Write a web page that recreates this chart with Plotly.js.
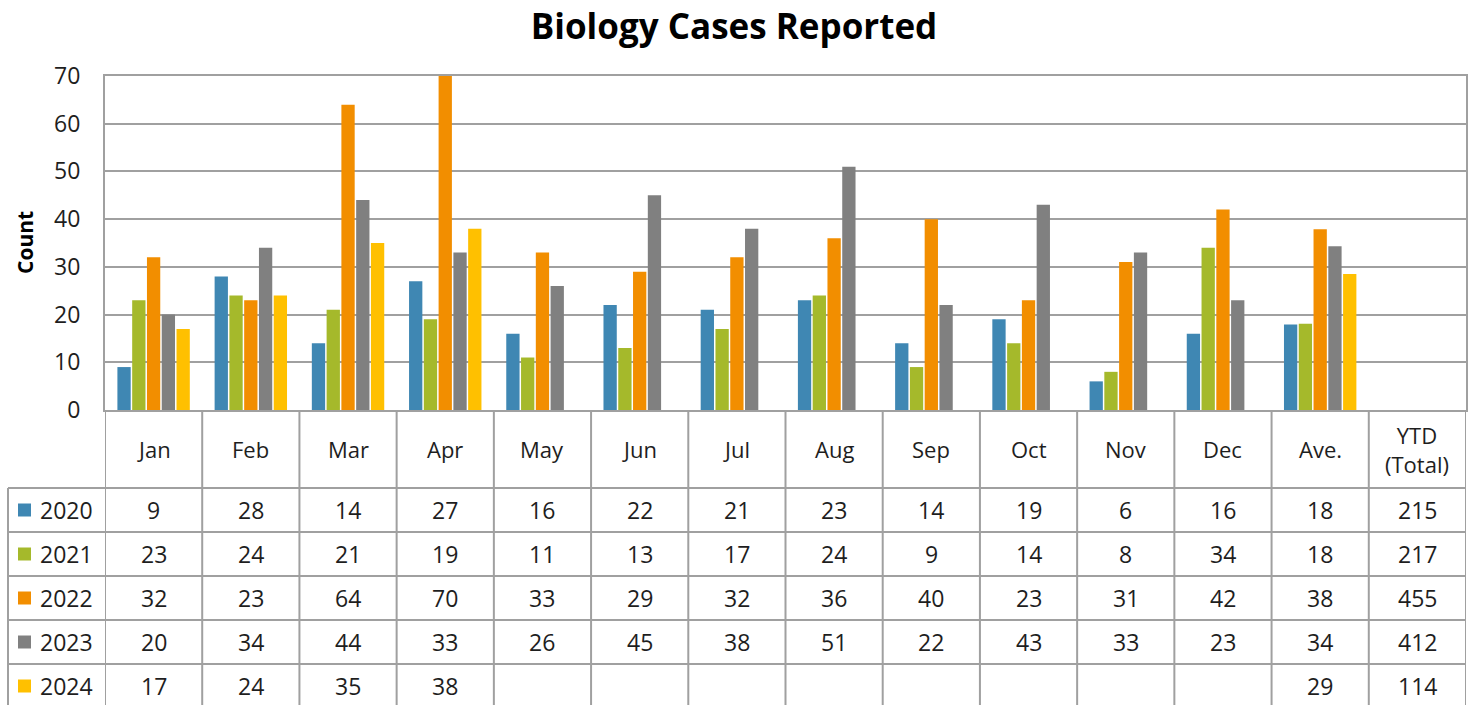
<!DOCTYPE html>
<html><head><meta charset="utf-8">
<script src="https://cdn.plot.ly/plotly-3.0.1.min.js"></script>
<style>html,body{margin:0;padding:0;background:#fff;overflow:hidden}#chart{width:1468px;height:705px}</style>
</head><body><div id="chart"></div>
<script>
// ---- data ----
const categories = ['Jan','Feb','Mar','Apr','May','Jun','Jul','Aug','Sep','Oct','Nov','Dec','Ave.'];
const tableHeaders = ['Jan','Feb','Mar','Apr','May','Jun','Jul','Aug','Sep','Oct','Nov','Dec','Ave.','YTD<br>(Total)'];
const years = ['2020','2021','2022','2023','2024'];
const s2020 = [9,28,14,27,16,22,21,23,14,19,6,16,17.9];
const s2021 = [23,24,21,19,11,13,17,24,9,14,8,34,18.1];
const s2022 = [32,23,64,70,33,29,32,36,40,23,31,42,37.9];
const s2023 = [20,34,44,33,26,45,38,51,22,43,33,23,34.3];
const s2024 = [17,24,35,38,null,null,null,null,null,null,null,null,28.5];
const ytdTotals = [215,217,455,412,114];
const yTicks = [0,10,20,30,40,50,60,70];

// ---- styling / layout constants ----
const series = [s2020,s2021,s2022,s2023,s2024];
const colors = ['#3f87b3','#a5b92b','#f28e00','#808080','#ffc000'];
const W = 1468, H = 705, mL = 105, mR = 2, mT = 76, mB = 295;
const plotW = W - mL - mR, plotH = H - mT - mB;
const gridCol = '#a0a0a0', txtCol = '#1e1e1e';
const FONT = '"Open Sans", Lato, sans-serif';
const fx = px => (px - mL) / plotW;
const fy = py => (H - mB - py) / plotH;
const axisPy = H - mB;
const headerH = 78, rowH = 44;
const tableLeftPx = 8;
const nCols = tableHeaders.length;

const xIdx = categories.map((c, i) => i);
const traces = series.map((s, k) => ({
  type: 'bar', x: xIdx, y: s, name: years[k],
  marker: {color: colors[k], line: {width: 0}},
  hoverinfo: 'y+name'
}));

const shapes = [];
const annotations = [];
const rowTop = r => axisPy + headerH + r * rowH;
const tableBottom = rowTop(years.length) + 4;

// vertical column lines (table)
for (let i = 0; i <= nCols; i++) {
  shapes.push({type: 'line', xref: 'x', yref: 'paper', x0: i - 0.5, x1: i - 0.5,
    y0: fy(axisPy), y1: fy(tableBottom), line: {color: gridCol, width: 2}});
}
// left border of row-label column
shapes.push({type: 'line', xref: 'paper', yref: 'paper', x0: fx(tableLeftPx), x1: fx(tableLeftPx),
  y0: fy(rowTop(0)), y1: fy(tableBottom), line: {color: gridCol, width: 2}});
// horizontal row lines
for (let r = 0; r <= years.length; r++) {
  shapes.push({type: 'line', xref: 'paper', yref: 'paper', x0: fx(tableLeftPx), x1: 1,
    y0: fy(rowTop(r)), y1: fy(rowTop(r)), line: {color: gridCol, width: 2}});
}
// header labels
tableHeaders.forEach((h, i) => {
  annotations.push({xref: 'x', yref: 'paper', x: i, y: fy(axisPy + headerH / 2),
    text: h, showarrow: false, xanchor: 'center', yanchor: 'middle',
    font: {family: FONT, size: 22, color: txtCol}});
});
// rows
years.forEach((yr, r) => {
  const cy = rowTop(r) + rowH / 2;
  // legend key square
  shapes.push({type: 'rect', xref: 'paper', yref: 'paper', x0: fx(18), x1: fx(31),
    y0: fy(cy - 6.5), y1: fy(cy + 6.5), fillcolor: colors[r], line: {width: 0}});
  annotations.push({xref: 'paper', yref: 'paper', x: fx(38), y: fy(cy), text: yr,
    showarrow: false, xanchor: 'left', yanchor: 'middle',
    font: {family: FONT, size: 23, color: txtCol}});
  const vals = series[r];
  vals.forEach((v, i) => {
    if (v === null) return;
    annotations.push({xref: 'x', yref: 'paper', x: i, y: fy(cy), text: String(Math.round(v)),
      showarrow: false, xanchor: 'center', yanchor: 'middle',
      font: {family: FONT, size: 23, color: txtCol}});
  });
  annotations.push({xref: 'x', yref: 'paper', x: nCols - 1, y: fy(cy), text: String(ytdTotals[r]),
    showarrow: false, xanchor: 'center', yanchor: 'middle',
    font: {family: FONT, size: 23, color: txtCol}});
});
// y-axis title
annotations.push({xref: 'paper', yref: 'paper', x: fx(25), y: 0.5, text: '<b>Count</b>',
  textangle: -90, showarrow: false, xanchor: 'center', yanchor: 'middle',
  font: {family: FONT, size: 21, color: '#000'}});

const layout = {
  width: W, height: H,
  margin: {l: mL, r: mR, t: mT, b: mB, pad: 0},
  paper_bgcolor: '#fff', plot_bgcolor: '#fff',
  showlegend: false,
  barmode: 'group', bargap: 0.24, bargroupgap: 0.1,
  title: {text: '<b>Biology Cases Reported</b>', xref: 'container', yref: 'container',
    x: 0.5, y: 1 - 27 / H, xanchor: 'center', yanchor: 'middle',
    font: {family: FONT, size: 35, color: '#000'}},
  xaxis: {type: 'linear', range: [-0.5, nCols - 0.5], showticklabels: false, ticks: '',
    showgrid: false, zeroline: false, showline: true, mirror: true,
    linecolor: gridCol, linewidth: 2, fixedrange: true},
  yaxis: {range: [0, 70], tickvals: yTicks, ticktext: yTicks.map(String), ticks: '',
    showgrid: true, gridcolor: gridCol, gridwidth: 2, zeroline: false,
    showline: true, mirror: true, linecolor: gridCol, linewidth: 2,
    ticklabelstandoff: 18, tickfont: {family: FONT, size: 23, color: txtCol}, fixedrange: true},
  shapes: shapes,
  annotations: annotations
};
Plotly.newPlot('chart', traces, layout, {displayModeBar: false, staticPlot: true});
</script></body></html>
